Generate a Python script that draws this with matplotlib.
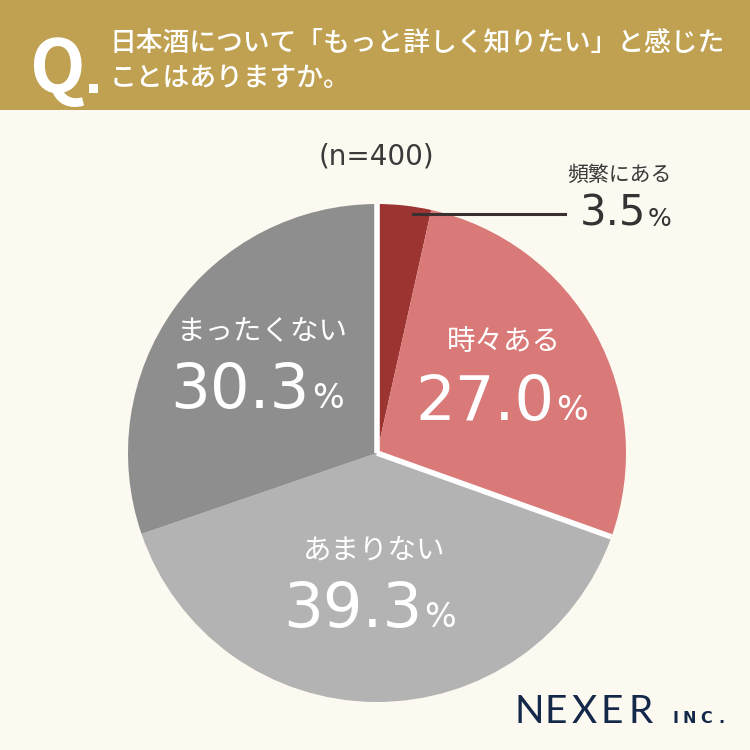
import matplotlib
matplotlib.use("Agg")
import matplotlib.pyplot as plt
import numpy as np
from matplotlib.patches import Rectangle

plt.rcParams['font.family'] = ['Noto Sans CJK JP', 'DejaVu Sans']

# ---- data ----
categories = ["頻繁にある", "時々ある", "あまりない", "まったくない"]
values = [3.5, 27.0, 39.3, 30.3]
colors = ["#9C3432", "#D97A79", "#B3B3B3", "#8E8E8E"]
title_line1 = "日本酒について「もっと詳しく知りたい」と感じた"
title_line2 = "ことはありますか。"
n_label = "(n=400)"

BG = "#FCF9F0"
HEADER = "#BFA151"
W = H = 750
NUMFONT = ['DejaVu Sans']

fig = plt.figure(figsize=(7.5, 7.5), dpi=100)
fig.patch.set_facecolor(BG)

def fx(px):
    return px / W

def fy(py):
    return 1 - py / H

# header band
fig.patches.append(Rectangle((0, fy(110)), 1, 110 / H, transform=fig.transFigure,
                             facecolor=HEADER, edgecolor='none', zorder=0))
fig.text(fx(57), fy(92), "Q", color='white', fontsize=52, fontweight='bold',
         ha='center', va='baseline', family=['Noto Sans CJK JP', 'DejaVu Sans'])
fig.patches.append(Rectangle((fx(89), fy(93)), 9 / W, 9 / H, transform=fig.transFigure,
                             facecolor='white', edgecolor='none'))
fig.text(fx(110), fy(43), title_line1, color='white', fontsize=19.3, fontweight='medium',
         ha='left', va='center')
fig.text(fx(110), fy(79), title_line2, color='white', fontsize=19.3, fontweight='medium',
         ha='left', va='center')

# pie
cx, cy, r = 377, 453, 249
ax = fig.add_axes([fx(cx - r), fy(cy + r), 2 * r / W, 2 * r / H])
ax.set_facecolor('none')
wedges, _ = ax.pie(values, colors=colors, startangle=90, counterclock=False, radius=1,
                   wedgeprops=dict(edgecolor='none', linewidth=0))
# white separators around the "red" group (first two slices)
for ang in (wedges[0].theta2, wedges[1].theta1):
    a = np.deg2rad(ang)
    ax.plot([0, np.cos(a)], [0, np.sin(a)], color='white', linewidth=4,
            solid_capstyle='butt', zorder=5)
ax.set_xlim(-1, 1)
ax.set_ylim(-1, 1)
ax.set_aspect('equal')
ax.axis('off')

fig.text(fx(376), fy(157), n_label, color='#3A3A3A', fontsize=20, ha='center', va='center',
         family=NUMFONT)

def pct_label(x_num_end, y_base, value, color, size=45, psize=24):
    fig.text(fx(x_num_end), fy(y_base), f"{value:.1f}", color=color, fontsize=size,
             ha='right', va='baseline', family=NUMFONT)
    fig.text(fx(x_num_end + 2), fy(y_base), "%", color=color, fontsize=psize,
             ha='left', va='baseline', family=NUMFONT)

# inside labels
LS = 20.5
fig.text(fx(262), fy(331), categories[3], color='white', fontsize=LS, ha='center', va='center')
pct_label(310, 408, values[3], 'white')
fig.text(fx(374), fy(550), categories[2], color='white', fontsize=LS, ha='center', va='center')
pct_label(422, 627, values[2], 'white')
fig.text(fx(504), fy(342), categories[1], color='white', fontsize=LS, ha='center', va='center')
pct_label(554, 420, values[1], 'white')

# outside label for smallest slice
fig.add_artist(plt.Line2D([fx(413), fx(565)], [fy(214), fy(214)], color='#3A3030',
                          linewidth=2.2, transform=fig.transFigure))
fig.text(fx(619), fy(175), categories[0], color='#3A3A3A', fontsize=15, ha='center', va='center')
pct_label(646, 226, values[0], '#333333', size=30, psize=18)

# logo
navy = "#14284A"
x = 515
for ch in "NEXER":
    fig.text(fx(x), fy(723), ch, color=navy, fontsize=28, ha='left', va='baseline',
             family=['Lato', 'DejaVu Sans'])
    x += {"N": 30, "E": 27, "X": 29, "R": 28}[ch]
x = 672
for ch in "INC.":
    fig.text(fx(x), fy(723), ch, color=navy, fontsize=11.5, fontweight='bold',
             ha='left', va='baseline', family=['DejaVu Sans'])
    x += {"I": 10, "N": 18, "C": 18, ".": 6}[ch]

fig.savefig("out.png", dpi=100, facecolor=BG)
